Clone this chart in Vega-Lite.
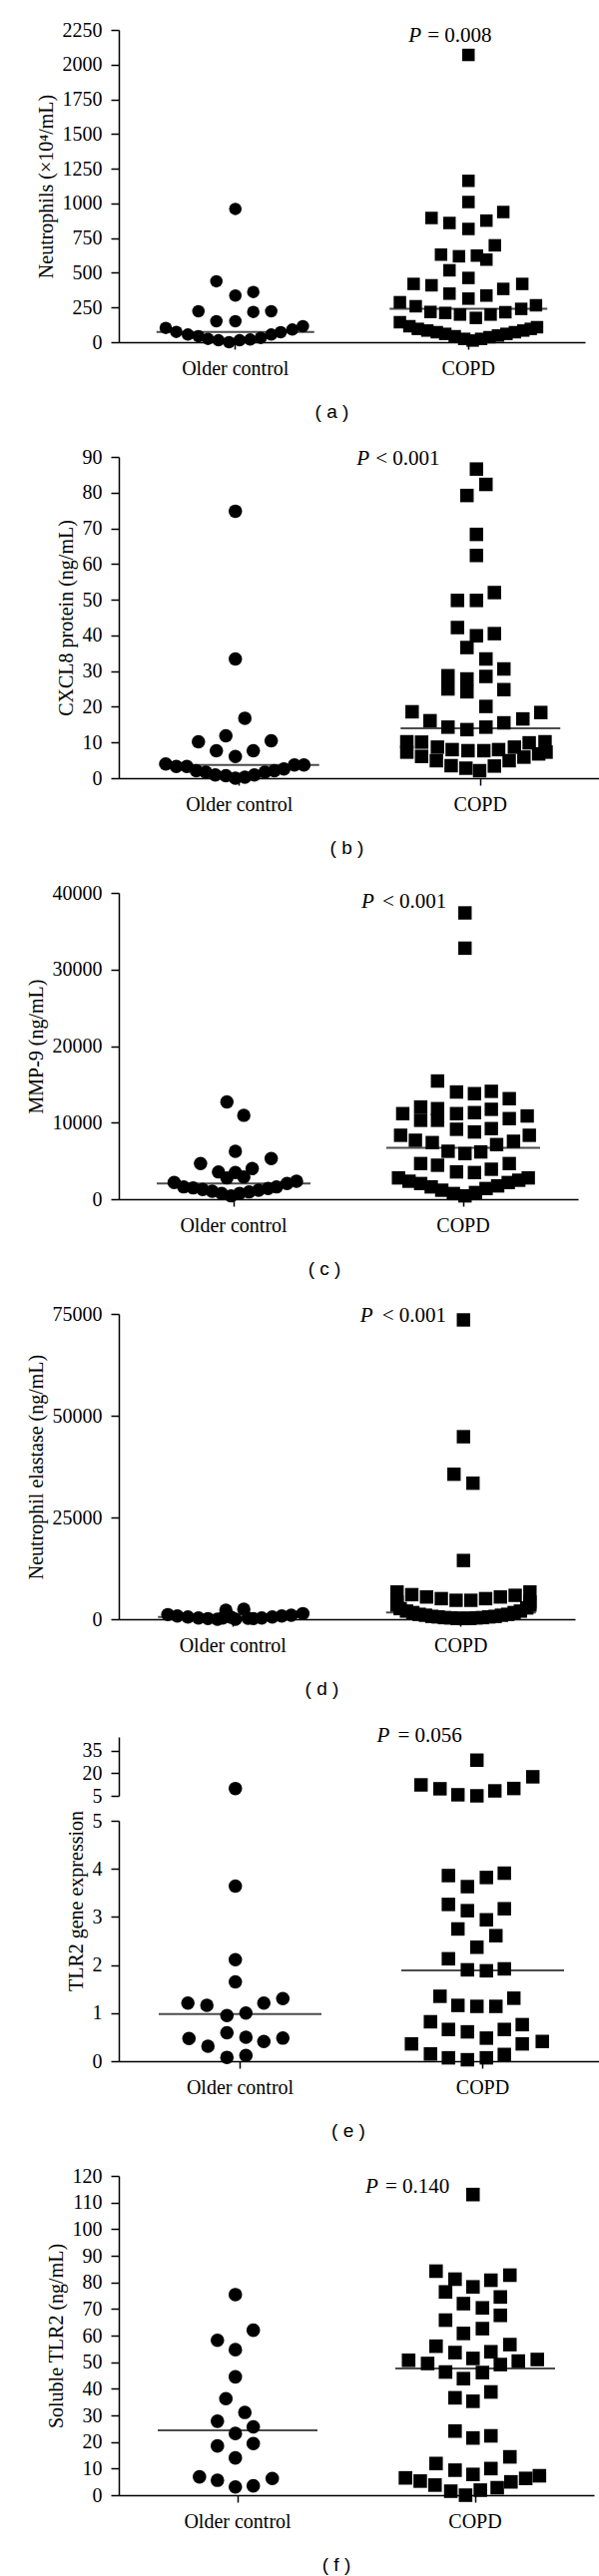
{
"$schema": "https://vega.github.io/schema/vega-lite/v6.json",
"background": "white",
"padding": {"left": 26, "top": 20, "right": 5, "bottom": 5},
"config": {
  "view": {"stroke": null},
  "axis": {"labelFont": "Liberation Serif", "labelFontSize": 20, "titleFont": "Liberation Serif", "titleFontSize": 20, "titleFontWeight": "normal", "labelColor": "#000", "titleColor": "#000", "domainColor": "#000", "tickColor": "#000", "domainWidth": 1.5, "tickWidth": 1.5, "grid": false, "titlePadding": 6},
  "axisY": {"tickSize": 8, "labelPadding": 9},
  "axisX": {"tickSize": 7, "labelPadding": 9},
  "title": {"font": "Liberation Sans", "fontSize": 19, "fontWeight": "normal", "orient": "bottom", "offset": 25, "color": "#000"}
},
"datasets": {
  "a": [
    {"group":"Older control","v":960,"slot":0},{"group":"Older control","v":439,"slot":-1.8},{"group":"Older control","v":336,"slot":0},{"group":"Older control","v":362,"slot":1.7},{"group":"Older control","v":223,"slot":-3.5},{"group":"Older control","v":218,"slot":1.7},{"group":"Older control","v":223,"slot":3.4},{"group":"Older control","v":151,"slot":-1.8},{"group":"Older control","v":151,"slot":0},{"group":"Older control","v":103,"slot":-6.6},{"group":"Older control","v":74,"slot":-5.6},{"group":"Older control","v":55,"slot":-4.5},{"group":"Older control","v":43,"slot":-3.5},{"group":"Older control","v":24,"slot":-2.6},{"group":"Older control","v":14,"slot":-1.6},{"group":"Older control","v":0,"slot":-0.6},{"group":"Older control","v":14,"slot":0.4},{"group":"Older control","v":19,"slot":1.4},{"group":"Older control","v":31,"slot":2.4},{"group":"Older control","v":55,"slot":3.4},{"group":"Older control","v":72,"slot":4.3},{"group":"Older control","v":91,"slot":5.4},{"group":"Older control","v":115,"slot":6.4},
    {"group":"COPD","v":2070,"slot":0},{"group":"COPD","v":1163,"slot":0},{"group":"COPD","v":1010,"slot":0},{"group":"COPD","v":895,"slot":-3.5},{"group":"COPD","v":859,"slot":-1.8},{"group":"COPD","v":876,"slot":1.7},{"group":"COPD","v":938,"slot":3.3},{"group":"COPD","v":816,"slot":0},{"group":"COPD","v":698,"slot":2.5},{"group":"COPD","v":631,"slot":-2.6},{"group":"COPD","v":619,"slot":-0.9},{"group":"COPD","v":624,"slot":0.8},{"group":"COPD","v":595,"slot":1.7},{"group":"COPD","v":518,"slot":-1.8},{"group":"COPD","v":463,"slot":0},{"group":"COPD","v":420,"slot":-5.2},{"group":"COPD","v":410,"slot":-3.5},{"group":"COPD","v":384,"slot":3.3},{"group":"COPD","v":420,"slot":5.1},{"group":"COPD","v":350,"slot":-1.8},{"group":"COPD","v":314,"slot":0},{"group":"COPD","v":336,"slot":1.7},{"group":"COPD","v":288,"slot":-6.5},{"group":"COPD","v":259,"slot":-5},{"group":"COPD","v":218,"slot":-3.6},{"group":"COPD","v":211,"slot":-2.2},{"group":"COPD","v":199,"slot":-0.8},{"group":"COPD","v":175,"slot":0.7},{"group":"COPD","v":199,"slot":2.1},{"group":"COPD","v":216,"slot":3.5},{"group":"COPD","v":240,"slot":5},{"group":"COPD","v":266,"slot":6.4},
    {"group":"COPD","v":144,"slot":-6.5},{"group":"COPD","v":115,"slot":-5.6},{"group":"COPD","v":96,"slot":-4.8},{"group":"COPD","v":84,"slot":-3.9},{"group":"COPD","v":72,"slot":-3.0},{"group":"COPD","v":60,"slot":-2.2},{"group":"COPD","v":43,"slot":-1.3},{"group":"COPD","v":24,"slot":-0.4},{"group":"COPD","v":12,"slot":0.4},{"group":"COPD","v":24,"slot":1.2},{"group":"COPD","v":36,"slot":2.0},{"group":"COPD","v":48,"slot":2.8},{"group":"COPD","v":60,"slot":3.6},{"group":"COPD","v":72,"slot":4.4},{"group":"COPD","v":84,"slot":5.2},{"group":"COPD","v":96,"slot":5.9},{"group":"COPD","v":108,"slot":6.5}
  ],
  "a_med": [{"group":"Older control","v":74},{"group":"COPD","v":240}],
  "a_p": [{"group":"COPD","v":2207,"p":"= 0.008"}],
  "b": [
    {"group":"Older control","v":74.8,"slot":0},{"group":"Older control","v":33.4,"slot":0},{"group":"Older control","v":16.8,"slot":0.9},{"group":"Older control","v":11.9,"slot":-0.9},{"group":"Older control","v":10.2,"slot":-3.5},{"group":"Older control","v":10.5,"slot":3.4},{"group":"Older control","v":7.7,"slot":-1.8},{"group":"Older control","v":7.7,"slot":1.7},{"group":"Older control","v":6.1,"slot":0},{"group":"Older control","v":4.0,"slot":-6.6},{"group":"Older control","v":3.3,"slot":-5.6},{"group":"Older control","v":3.3,"slot":-4.6},{"group":"Older control","v":2.1,"slot":-3.7},{"group":"Older control","v":1.7,"slot":-2.8},{"group":"Older control","v":0.9,"slot":-1.9},{"group":"Older control","v":0.7,"slot":-0.9},{"group":"Older control","v":0,"slot":0},{"group":"Older control","v":0.3,"slot":0.9},{"group":"Older control","v":0.9,"slot":1.8},{"group":"Older control","v":1.7,"slot":2.8},{"group":"Older control","v":2.1,"slot":3.7},{"group":"Older control","v":2.6,"slot":4.6},{"group":"Older control","v":3.7,"slot":5.6},{"group":"Older control","v":3.7,"slot":6.5},
    {"group":"COPD","v":86.6,"slot":0},{"group":"COPD","v":82.3,"slot":0.9},{"group":"COPD","v":79.2,"slot":-0.9},{"group":"COPD","v":68.3,"slot":0},{"group":"COPD","v":62.4,"slot":0},{"group":"COPD","v":52.0,"slot":1.7},{"group":"COPD","v":49.8,"slot":-1.8},{"group":"COPD","v":49.8,"slot":0},{"group":"COPD","v":42.2,"slot":-1.8},{"group":"COPD","v":39.9,"slot":0},{"group":"COPD","v":40.5,"slot":1.7},{"group":"COPD","v":36.6,"slot":-0.9},{"group":"COPD","v":33.4,"slot":0.9},{"group":"COPD","v":30.6,"slot":2.6},{"group":"COPD","v":28.7,"slot":-2.7},{"group":"COPD","v":27.8,"slot":-0.9},{"group":"COPD","v":28.5,"slot":0.9},{"group":"COPD","v":25.0,"slot":-2.7},{"group":"COPD","v":24.2,"slot":-0.9},{"group":"COPD","v":24.8,"slot":2.6},{"group":"COPD","v":20.1,"slot":0.9},{"group":"COPD","v":18.6,"slot":-6.1},{"group":"COPD","v":16.1,"slot":-4.4},{"group":"COPD","v":14.3,"slot":-2.7},{"group":"COPD","v":13.6,"slot":-0.9},{"group":"COPD","v":14.3,"slot":0.9},{"group":"COPD","v":15.5,"slot":2.6},{"group":"COPD","v":16.6,"slot":4.4},{"group":"COPD","v":18.4,"slot":6.1},{"group":"COPD","v":10.2,"slot":-6.6},{"group":"COPD","v":10.1,"slot":-5.2},{"group":"COPD","v":8.7,"slot":-3.7},{"group":"COPD","v":8.0,"slot":-2.3},{"group":"COPD","v":7.7,"slot":-0.8},{"group":"COPD","v":7.7,"slot":0.7},{"group":"COPD","v":8.0,"slot":2.1},{"group":"COPD","v":8.7,"slot":3.6},{"group":"COPD","v":9.9,"slot":5},{"group":"COPD","v":10.2,"slot":6.5},
    {"group":"COPD","v":7.3,"slot":-6.6},{"group":"COPD","v":6.1,"slot":-5.2},{"group":"COPD","v":4.9,"slot":-3.8},{"group":"COPD","v":3.5,"slot":-2.4},{"group":"COPD","v":2.8,"slot":-1.0},{"group":"COPD","v":2.1,"slot":0.3},{"group":"COPD","v":3.4,"slot":1.7},{"group":"COPD","v":4.9,"slot":3.1},{"group":"COPD","v":5.9,"slot":4.5},{"group":"COPD","v":6.8,"slot":5.9},{"group":"COPD","v":7.3,"slot":6.6}
  ],
  "b_med": [{"group":"Older control","v":3.7},{"group":"COPD","v":14.0}],
  "b_p": [{"group":"COPD","v":89.4,"p":"< 0.001"}],
  "c": [
    {"group":"Older control","v":12696,"slot":-0.8},{"group":"Older control","v":10957,"slot":0.8},{"group":"Older control","v":6261,"slot":0},{"group":"Older control","v":4652,"slot":-3.3},{"group":"Older control","v":5304,"slot":3.4},{"group":"Older control","v":3565,"slot":-1.6},{"group":"Older control","v":3478,"slot":0},{"group":"Older control","v":4000,"slot":1.6},{"group":"Older control","v":2783,"slot":-0.8},{"group":"Older control","v":2913,"slot":0.8},
    {"group":"Older control","v":2174,"slot":-5.8},{"group":"Older control","v":1609,"slot":-4.9},{"group":"Older control","v":1478,"slot":-4},{"group":"Older control","v":1261,"slot":-3.1},{"group":"Older control","v":1043,"slot":-2.2},{"group":"Older control","v":739,"slot":-1.3},{"group":"Older control","v":435,"slot":-0.4},{"group":"Older control","v":739,"slot":0.4},{"group":"Older control","v":957,"slot":1.3},{"group":"Older control","v":1174,"slot":2.2},{"group":"Older control","v":1391,"slot":3.1},{"group":"Older control","v":1609,"slot":3.9},{"group":"Older control","v":2043,"slot":4.9},{"group":"Older control","v":2348,"slot":5.8},
    {"group":"COPD","v":37391,"slot":0},{"group":"COPD","v":32783,"slot":0},{"group":"COPD","v":15435,"slot":-2.6},{"group":"COPD","v":14000,"slot":-0.8},{"group":"COPD","v":13783,"slot":0.9},{"group":"COPD","v":14087,"slot":2.5},{"group":"COPD","v":13130,"slot":4.2},{"group":"COPD","v":11174,"slot":-5.9},{"group":"COPD","v":12043,"slot":-4.2},{"group":"COPD","v":10304,"slot":-4.2},{"group":"COPD","v":11826,"slot":-2.6},{"group":"COPD","v":10304,"slot":-2.6},{"group":"COPD","v":11174,"slot":-0.8},{"group":"COPD","v":11304,"slot":0.9},{"group":"COPD","v":11739,"slot":2.5},{"group":"COPD","v":10522,"slot":4.2},{"group":"COPD","v":10870,"slot":5.9},{"group":"COPD","v":8348,"slot":-6.1},{"group":"COPD","v":7696,"slot":-4.7},{"group":"COPD","v":7391,"slot":-3.1},{"group":"COPD","v":9130,"slot":-0.8},{"group":"COPD","v":8783,"slot":0.9},{"group":"COPD","v":9217,"slot":2.5},{"group":"COPD","v":7565,"slot":4.6},{"group":"COPD","v":8348,"slot":6.1},{"group":"COPD","v":6261,"slot":-1.6},{"group":"COPD","v":5957,"slot":0},{"group":"COPD","v":6174,"slot":1.5},{"group":"COPD","v":7130,"slot":3},{"group":"COPD","v":4652,"slot":-4.2},{"group":"COPD","v":4435,"slot":-2.6},{"group":"COPD","v":3565,"slot":-0.8},{"group":"COPD","v":3478,"slot":0.9},{"group":"COPD","v":3913,"slot":2.5},{"group":"COPD","v":4652,"slot":4.2},
    {"group":"COPD","v":2783,"slot":-6.3},{"group":"COPD","v":2348,"slot":-5.3},{"group":"COPD","v":2043,"slot":-4.2},{"group":"COPD","v":1609,"slot":-3.2},{"group":"COPD","v":1174,"slot":-2.2},{"group":"COPD","v":739,"slot":-1.1},{"group":"COPD","v":435,"slot":0},{"group":"COPD","v":870,"slot":1},{"group":"COPD","v":1391,"slot":2},{"group":"COPD","v":1739,"slot":3.1},{"group":"COPD","v":2174,"slot":4.1},{"group":"COPD","v":2478,"slot":5.1},{"group":"COPD","v":2783,"slot":6}
  ],
  "c_med": [{"group":"Older control","v":2043},{"group":"COPD","v":6696}],
  "c_p": [{"group":"COPD","v":38827,"p":"< 0.001"}],
  "d": [
    {"group":"Older control","v":1141,"slot":-6.4},{"group":"Older control","v":815,"slot":-5.5},{"group":"Older control","v":571,"slot":-4.5},{"group":"Older control","v":326,"slot":-3.5},{"group":"Older control","v":163,"slot":-2.6},{"group":"Older control","v":0,"slot":-1.7},{"group":"Older control","v":2201,"slot":-0.9},{"group":"Older control","v":0,"slot":0},{"group":"Older control","v":2446,"slot":0.8},{"group":"Older control","v":163,"slot":1.7},{"group":"Older control","v":326,"slot":2.5},{"group":"Older control","v":571,"slot":3.5},{"group":"Older control","v":815,"slot":4.4},{"group":"Older control","v":978,"slot":5.3},{"group":"Older control","v":1386,"slot":6.4},{"group":"Older control","v":300,"slot":-1.2},{"group":"Older control","v":250,"slot":1.2},{"group":"Older control","v":500,"slot":-0.4},
    {"group":"COPD","v":73533,"slot":0},{"group":"COPD","v":44837,"slot":0},{"group":"COPD","v":35625,"slot":-0.9},{"group":"COPD","v":33424,"slot":0.9},{"group":"COPD","v":14429,"slot":0},
    {"group":"COPD","v":6685,"slot":-6.3},{"group":"COPD","v":6033,"slot":-4.9},{"group":"COPD","v":5462,"slot":-3.5},{"group":"COPD","v":5054,"slot":-2.1},{"group":"COPD","v":4647,"slot":-0.7},{"group":"COPD","v":4647,"slot":0.7},{"group":"COPD","v":5054,"slot":2.1},{"group":"COPD","v":5462,"slot":3.5},{"group":"COPD","v":5870,"slot":4.9},{"group":"COPD","v":6685,"slot":6.3},{"group":"COPD","v":4239,"slot":-6.3},{"group":"COPD","v":4239,"slot":6.3},
    {"group":"COPD","v":2609,"slot":-6},{"group":"COPD","v":1630,"slot":-4.8},{"group":"COPD","v":978,"slot":-3.6},{"group":"COPD","v":571,"slot":-2.4},{"group":"COPD","v":326,"slot":-1.2},{"group":"COPD","v":163,"slot":0},{"group":"COPD","v":326,"slot":1.2},{"group":"COPD","v":571,"slot":2.4},{"group":"COPD","v":978,"slot":3.6},{"group":"COPD","v":1630,"slot":4.8},{"group":"COPD","v":2772,"slot":6},
    {"group":"COPD","v":3500,"slot":-6.3},{"group":"COPD","v":3500,"slot":6.3},{"group":"COPD","v":2000,"slot":-5.4},{"group":"COPD","v":2000,"slot":5.4},{"group":"COPD","v":1200,"slot":-4.2},{"group":"COPD","v":1200,"slot":4.2},{"group":"COPD","v":700,"slot":-3},{"group":"COPD","v":700,"slot":3},{"group":"COPD","v":400,"slot":-1.8},{"group":"COPD","v":400,"slot":1.8},{"group":"COPD","v":200,"slot":-0.6},{"group":"COPD","v":200,"slot":0.6}
  ],
  "d_med": [{"group":"Older control","v":570},{"group":"COPD","v":1630}],
  "d_p": [{"group":"COPD","v":74510,"p":"< 0.001"}],
  "e_up": [
    {"group":"Older control","v":9.9,"slot":0},
    {"group":"COPD","v":12.3,"slot":-5.4},{"group":"COPD","v":9.7,"slot":-3.6},{"group":"COPD","v":5.7,"slot":-1.9},{"group":"COPD","v":5.0,"slot":-0.1},{"group":"COPD","v":8.3,"slot":1.6},{"group":"COPD","v":9.9,"slot":3.4},{"group":"COPD","v":17.7,"slot":5.2},{"group":"COPD","v":28.8,"slot":-0.1}
  ],
  "e_low": [
    {"group":"Older control","v":3.64,"slot":0},{"group":"Older control","v":2.11,"slot":0},{"group":"Older control","v":1.65,"slot":0},{"group":"Older control","v":1.21,"slot":-4.5},{"group":"Older control","v":1.16,"slot":-2.7},{"group":"Older control","v":1.21,"slot":2.7},{"group":"Older control","v":1.30,"slot":4.5},{"group":"Older control","v":0.95,"slot":-0.8},{"group":"Older control","v":1.00,"slot":1.0},{"group":"Older control","v":0.47,"slot":-4.4},{"group":"Older control","v":0.31,"slot":-2.6},{"group":"Older control","v":0.59,"slot":-0.8},{"group":"Older control","v":0.50,"slot":1.0},{"group":"Older control","v":0.41,"slot":2.7},{"group":"Older control","v":0.48,"slot":4.5},{"group":"Older control","v":0.08,"slot":-0.8},{"group":"Older control","v":0.12,"slot":1.0},
    {"group":"COPD","v":3.86,"slot":-2.8},{"group":"COPD","v":3.63,"slot":-1.0},{"group":"COPD","v":3.82,"slot":0.8},{"group":"COPD","v":3.91,"slot":2.5},{"group":"COPD","v":3.26,"slot":-2.8},{"group":"COPD","v":3.13,"slot":-1.0},{"group":"COPD","v":2.94,"slot":0.8},{"group":"COPD","v":3.17,"slot":2.5},{"group":"COPD","v":2.75,"slot":-1.9},{"group":"COPD","v":2.61,"slot":1.7},{"group":"COPD","v":2.37,"slot":-0.1},{"group":"COPD","v":2.13,"slot":-2.8},{"group":"COPD","v":1.90,"slot":-1.0},{"group":"COPD","v":1.88,"slot":0.8},{"group":"COPD","v":1.92,"slot":2.5},{"group":"COPD","v":1.35,"slot":-3.6},{"group":"COPD","v":1.16,"slot":-1.9},{"group":"COPD","v":1.14,"slot":-0.1},{"group":"COPD","v":1.14,"slot":1.7},{"group":"COPD","v":1.31,"slot":3.4},{"group":"COPD","v":0.82,"slot":-4.5},{"group":"COPD","v":0.66,"slot":-2.8},{"group":"COPD","v":0.61,"slot":-1.0},{"group":"COPD","v":0.48,"slot":0.8},{"group":"COPD","v":0.66,"slot":2.5},{"group":"COPD","v":0.76,"slot":4.2},{"group":"COPD","v":0.36,"slot":-6.3},{"group":"COPD","v":0.15,"slot":-4.5},{"group":"COPD","v":0.07,"slot":-2.8},{"group":"COPD","v":0.03,"slot":-1.0},{"group":"COPD","v":0.07,"slot":0.8},{"group":"COPD","v":0.14,"slot":2.5},{"group":"COPD","v":0.36,"slot":4.2},{"group":"COPD","v":0.41,"slot":6.1}
  ],
  "e_med": [{"group":"Older control","v":0.98},{"group":"COPD","v":1.89}],
  "e_p": [{"group":"COPD","v":45,"p":"= 0.056"}],
  "f": [
    {"group":"Older control","v":75.4,"slot":0},{"group":"Older control","v":62.0,"slot":1.7},{"group":"Older control","v":58.2,"slot":-1.7},{"group":"Older control","v":54.7,"slot":0},{"group":"Older control","v":44.5,"slot":0},{"group":"Older control","v":36.3,"slot":-0.9},{"group":"Older control","v":31.1,"slot":0.9},{"group":"Older control","v":27.8,"slot":-1.7},{"group":"Older control","v":25.7,"slot":1.7},{"group":"Older control","v":23.2,"slot":0},{"group":"Older control","v":18.5,"slot":-1.7},{"group":"Older control","v":19.4,"slot":1.7},{"group":"Older control","v":14.0,"slot":0},{"group":"Older control","v":6.9,"slot":-3.4},{"group":"Older control","v":5.6,"slot":-1.7},{"group":"Older control","v":3.1,"slot":0},{"group":"Older control","v":3.5,"slot":1.7},{"group":"Older control","v":6.3,"slot":3.5},
    {"group":"COPD","v":113,"slot":0},{"group":"COPD","v":84.2,"slot":-3.5},{"group":"COPD","v":81.2,"slot":-1.7},{"group":"COPD","v":80.8,"slot":1.7},{"group":"COPD","v":82.7,"slot":3.5},{"group":"COPD","v":76.4,"slot":-2.6},{"group":"COPD","v":78.3,"slot":0},{"group":"COPD","v":74.5,"slot":2.6},{"group":"COPD","v":72.0,"slot":-0.9},{"group":"COPD","v":70.4,"slot":0.9},{"group":"COPD","v":65.8,"slot":-2.6},{"group":"COPD","v":67.6,"slot":2.6},{"group":"COPD","v":60.8,"slot":-0.9},{"group":"COPD","v":62.6,"slot":0.9},{"group":"COPD","v":56.0,"slot":-3.5},{"group":"COPD","v":53.6,"slot":-1.7},{"group":"COPD","v":53.9,"slot":1.7},{"group":"COPD","v":56.6,"slot":3.5},{"group":"COPD","v":50.7,"slot":-6.1},{"group":"COPD","v":49.5,"slot":-4.3},{"group":"COPD","v":51.4,"slot":0},{"group":"COPD","v":49.1,"slot":2.6},{"group":"COPD","v":50.4,"slot":4.3},{"group":"COPD","v":51.0,"slot":6.1},{"group":"COPD","v":46.3,"slot":-2.6},{"group":"COPD","v":43.8,"slot":-0.9},{"group":"COPD","v":46.1,"slot":0.9},{"group":"COPD","v":36.6,"slot":-1.7},{"group":"COPD","v":35.3,"slot":0},{"group":"COPD","v":38.8,"slot":1.7},{"group":"COPD","v":24.1,"slot":-1.7},{"group":"COPD","v":21.5,"slot":0},{"group":"COPD","v":22.3,"slot":1.7},{"group":"COPD","v":11.9,"slot":-3.5},{"group":"COPD","v":9.4,"slot":-1.7},{"group":"COPD","v":7.8,"slot":0},{"group":"COPD","v":10.0,"slot":1.7},{"group":"COPD","v":14.4,"slot":3.5},{"group":"COPD","v":6.5,"slot":-6.4},{"group":"COPD","v":5.3,"slot":-5},{"group":"COPD","v":3.8,"slot":-3.6},{"group":"COPD","v":1.5,"slot":-2.1},{"group":"COPD","v":0,"slot":-0.7},{"group":"COPD","v":1.9,"slot":0.7},{"group":"COPD","v":2.8,"slot":2.3},{"group":"COPD","v":5.0,"slot":3.6},{"group":"COPD","v":6.3,"slot":5},{"group":"COPD","v":7.3,"slot":6.3}
  ],
  "f_med": [{"group":"Older control","v":24.4},{"group":"COPD","v":47.6}],
  "f_p": [{"group":"COPD","v":115.9,"p":"= 0.140"}]
},
"concat": [
  {
    "width": 467, "height": 313,
    "title": {"text": "( a )", "dx": -20},
    "encoding": {
      "x": {"field": "group", "type": "nominal", "sort": null, "scale": {"domain": ["Older control", "COPD"], "paddingInner": 0, "paddingOuter": 0}, "axis": {"title": null, "labelAngle": 0}},
      "y": {"field": "v", "type": "quantitative", "scale": {"domain": [0, 2250], "nice": false, "zero": false}, "axis": {"title": "Neutrophils (×10⁴/mL)", "values": [0,250,500,750,1000,1250,1500,1750,2000,2250], "format": "d"}}
    },
    "layer": [
      {"data": {"name": "a"}, "mark": {"type": "point", "filled": true, "opacity": 1, "color": "#000", "size": 156},
       "encoding": {"xOffset": {"field": "slot", "type": "quantitative", "scale": {"domain": [-10.61, 10.61], "zero": false, "nice": false}},
                    "shape": {"field": "group", "type": "nominal", "scale": {"domain": ["Older control", "COPD"], "range": ["circle", "square"]}, "legend": null}}},
      {"data": {"name": "a_med"}, "mark": {"type": "tick", "size": 158, "thickness": 2, "color": "#000", "orient": "horizontal"}, "encoding": {}},
      {"data": {"name": "a_p"}, "mark": {"type": "text", "text": "P", "font": "Liberation Serif", "fontSize": 21, "fontStyle": "italic", "align": "left", "baseline": "middle", "dx": -60, "color": "#000"}, "encoding": {}},
      {"data": {"name": "a_p"}, "mark": {"type": "text", "font": "Liberation Serif", "fontSize": 21, "align": "left", "baseline": "middle", "dx": -41, "color": "#000"}, "encoding": {"text": {"field": "p"}}}
    ]
  },
  {
    "width": 483, "height": 322,
    "title": {"text": "( b )", "dx": -13},
    "encoding": {
      "x": {"field": "group", "type": "nominal", "sort": null, "scale": {"domain": ["Older control", "COPD"], "paddingInner": 0, "paddingOuter": 0}, "axis": {"title": null, "labelAngle": 0}},
      "y": {"field": "v", "type": "quantitative", "scale": {"domain": [0, 90], "nice": false, "zero": false}, "axis": {"title": "CXCL8 protein (ng/mL)", "values": [0,10,20,30,40,50,60,70,80,90], "format": "d"}}
    },
    "layer": [
      {"data": {"name": "b"}, "mark": {"type": "point", "filled": true, "opacity": 1, "color": "#000", "size": 182},
       "encoding": {"xOffset": {"field": "slot", "type": "quantitative", "scale": {"domain": [-10.98, 10.98], "zero": false, "nice": false}},
                    "shape": {"field": "group", "type": "nominal", "scale": {"domain": ["Older control", "COPD"], "range": ["circle", "square"]}, "legend": null}}},
      {"data": {"name": "b_med"}, "mark": {"type": "tick", "size": 160, "thickness": 2, "color": "#000", "orient": "horizontal"}, "encoding": {}},
      {"data": {"name": "b_p"}, "mark": {"type": "text", "text": "P", "font": "Liberation Serif", "fontSize": 21, "fontStyle": "italic", "align": "left", "baseline": "middle", "dx": -124, "color": "#000"}, "encoding": {}},
      {"data": {"name": "b_p"}, "mark": {"type": "text", "font": "Liberation Serif", "fontSize": 21, "align": "left", "baseline": "middle", "dx": -105, "color": "#000"}, "encoding": {"text": {"field": "p"}}}
    ]
  },
  {
    "width": 460, "height": 307,
    "title": {"text": "( c )", "dx": -24},
    "encoding": {
      "x": {"field": "group", "type": "nominal", "sort": null, "scale": {"domain": ["Older control", "COPD"], "paddingInner": 0, "paddingOuter": 0}, "axis": {"title": null, "labelAngle": 0}},
      "y": {"field": "v", "type": "quantitative", "scale": {"domain": [0, 40000], "nice": false, "zero": false}, "axis": {"title": "MMP-9 (ng/mL)", "values": [0,10000,20000,30000,40000], "format": "d"}}
    },
    "layer": [
      {"data": {"name": "c"}, "mark": {"type": "point", "filled": true, "opacity": 1, "color": "#000", "size": 180},
       "encoding": {"xOffset": {"field": "slot", "type": "quantitative", "scale": {"domain": [-10.45, 10.45], "zero": false, "nice": false}},
                    "shape": {"field": "group", "type": "nominal", "scale": {"domain": ["Older control", "COPD"], "range": ["circle", "square"]}, "legend": null}}},
      {"data": {"name": "c_med"}, "mark": {"type": "tick", "size": 154, "thickness": 2, "color": "#000", "orient": "horizontal"}, "encoding": {}},
      {"data": {"name": "c_p"}, "mark": {"type": "text", "text": "P", "font": "Liberation Serif", "fontSize": 21, "fontStyle": "italic", "align": "left", "baseline": "middle", "dx": -102, "color": "#000"}, "encoding": {}},
      {"data": {"name": "c_p"}, "mark": {"type": "text", "font": "Liberation Serif", "fontSize": 21, "align": "left", "baseline": "middle", "dx": -81, "color": "#000"}, "encoding": {"text": {"field": "p"}}}
    ]
  },
  {
    "width": 457, "height": 306,
    "title": {"text": "( d )", "dx": -25},
    "encoding": {
      "x": {"field": "group", "type": "nominal", "sort": null, "scale": {"domain": ["Older control", "COPD"], "paddingInner": 0, "paddingOuter": 0}, "axis": {"title": null, "labelAngle": 0}},
      "y": {"field": "v", "type": "quantitative", "scale": {"domain": [0, 75000], "nice": false, "zero": false}, "axis": {"title": "Neutrophil elastase (ng/mL)", "values": [0,25000,50000,75000], "format": "d"}}
    },
    "layer": [
      {"data": {"name": "d"}, "mark": {"type": "point", "filled": true, "opacity": 1, "color": "#000", "size": 180},
       "encoding": {"xOffset": {"field": "slot", "type": "quantitative", "scale": {"domain": [-10.39, 10.39], "zero": false, "nice": false}},
                    "shape": {"field": "group", "type": "nominal", "scale": {"domain": ["Older control", "COPD"], "range": ["circle", "square"]}, "legend": null}}},
      {"data": {"name": "d_med"}, "mark": {"type": "tick", "size": 150, "thickness": 2, "color": "#000", "orient": "horizontal"}, "encoding": {}},
      {"data": {"name": "d_p"}, "mark": {"type": "text", "text": "P", "font": "Liberation Serif", "fontSize": 21, "fontStyle": "italic", "align": "left", "baseline": "middle", "dx": -101, "color": "#000"}, "encoding": {}},
      {"data": {"name": "d_p"}, "mark": {"type": "text", "font": "Liberation Serif", "fontSize": 21, "align": "left", "baseline": "middle", "dx": -79, "color": "#000"}, "encoding": {"text": {"field": "p"}}}
    ]
  },
  {
    "concat": [
      {
        "width": 486, "height": 59,
        "encoding": {
          "x": {"field": "group", "type": "nominal", "sort": null, "scale": {"domain": ["Older control", "COPD"], "paddingInner": 0, "paddingOuter": 0}, "axis": null},
          "y": {"field": "v", "type": "quantitative", "scale": {"domain": [5, 44.3], "nice": false, "zero": false}, "axis": {"title": null, "values": [5,20,35], "format": "d"}}
        },
        "layer": [
          {"data": {"name": "e_up"}, "mark": {"type": "point", "filled": true, "opacity": 1, "color": "#000", "size": 182},
           "encoding": {"xOffset": {"field": "slot", "type": "quantitative", "scale": {"domain": [-11.05, 11.05], "zero": false, "nice": false}},
                        "shape": {"field": "group", "type": "nominal", "scale": {"domain": ["Older control", "COPD"], "range": ["circle", "square"]}, "legend": null}}},
          {"data": {"name": "e_p"}, "mark": {"type": "text", "text": "P", "font": "Liberation Serif", "fontSize": 21, "fontStyle": "italic", "align": "left", "baseline": "middle", "dx": -106, "color": "#000"}, "encoding": {}},
          {"data": {"name": "e_p"}, "mark": {"type": "text", "font": "Liberation Serif", "fontSize": 21, "align": "left", "baseline": "middle", "dx": -85, "color": "#000"}, "encoding": {"text": {"field": "p"}}}
        ]
      },
      {
        "width": 486, "height": 241,
        "title": {"text": "( e )", "dx": -13},
        "encoding": {
          "x": {"field": "group", "type": "nominal", "sort": null, "scale": {"domain": ["Older control", "COPD"], "paddingInner": 0, "paddingOuter": 0}, "axis": {"title": null, "labelAngle": 0}},
          "y": {"field": "v", "type": "quantitative", "scale": {"domain": [0, 5], "nice": false, "zero": false}, "axis": {"title": "TLR2 gene expression", "titleY": 80, "values": [0,1,2,3,4,5], "format": "d"}}
        },
        "layer": [
          {"data": {"name": "e_low"}, "mark": {"type": "point", "filled": true, "opacity": 1, "color": "#000", "size": 182},
           "encoding": {"xOffset": {"field": "slot", "type": "quantitative", "scale": {"domain": [-11.05, 11.05], "zero": false, "nice": false}},
                        "shape": {"field": "group", "type": "nominal", "scale": {"domain": ["Older control", "COPD"], "range": ["circle", "square"]}, "legend": null}}},
          {"data": {"name": "e_med"}, "mark": {"type": "tick", "size": 163, "thickness": 2, "color": "#000", "orient": "horizontal"}, "encoding": {}}
        ]
      }
    ],
    "columns": 1, "spacing": 25, "bounds": "flush", "align": "none"
  },
  {
    "width": 476, "height": 320,
    "title": {"text": "( f )", "dx": -20},
    "encoding": {
      "x": {"field": "group", "type": "nominal", "sort": null, "scale": {"domain": ["Older control", "COPD"], "paddingInner": 0, "paddingOuter": 0}, "axis": {"title": null, "labelAngle": 0}},
      "y": {"field": "v", "type": "quantitative", "scale": {"domain": [0, 120], "nice": false, "zero": false}, "axis": {"title": "Soluble TLR2 (ng/mL)", "values": [0,10,20,30,40,50,60,70,80,90,100,110,120], "format": "d"}}
    },
    "layer": [
      {"data": {"name": "f"}, "mark": {"type": "point", "filled": true, "opacity": 1, "color": "#000", "size": 185},
       "encoding": {"xOffset": {"field": "slot", "type": "quantitative", "scale": {"domain": [-10.82, 10.82], "zero": false, "nice": false}},
                    "shape": {"field": "group", "type": "nominal", "scale": {"domain": ["Older control", "COPD"], "range": ["circle", "square"]}, "legend": null}}},
      {"data": {"name": "f_med"}, "mark": {"type": "tick", "size": 160, "thickness": 2, "color": "#000", "orient": "horizontal"}, "encoding": {}},
      {"data": {"name": "f_p"}, "mark": {"type": "text", "text": "P", "font": "Liberation Serif", "fontSize": 21, "fontStyle": "italic", "align": "left", "baseline": "middle", "dx": -110, "color": "#000"}, "encoding": {}},
      {"data": {"name": "f_p"}, "mark": {"type": "text", "font": "Liberation Serif", "fontSize": 21, "align": "left", "baseline": "middle", "dx": -90, "color": "#000"}, "encoding": {"text": {"field": "p"}}}
    ]
  }
],
"columns": 1, "spacing": 25, "bounds": "full", "align": "none"
}
